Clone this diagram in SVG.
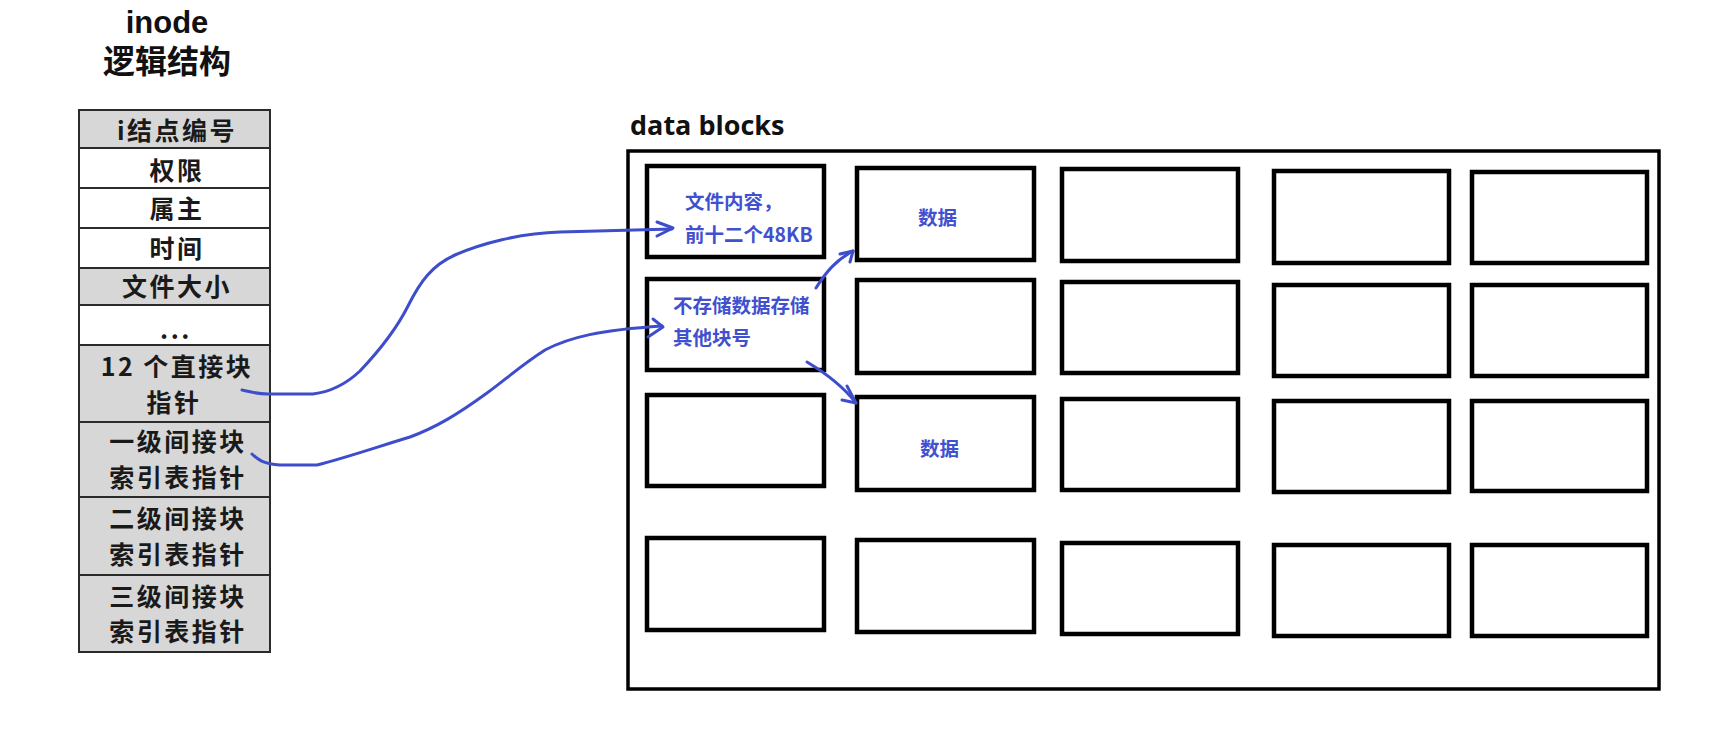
<svg xmlns="http://www.w3.org/2000/svg" width="1731" height="729" viewBox="0 0 1731 729">
<defs>
<style>
.title{font-family:"Liberation Sans","Noto Sans CJK SC",sans-serif;font-weight:bold;fill:#111;text-anchor:middle}
.cell{stroke:#2b2b2b;stroke-width:2}
.gray{fill:#d7d7d7}
.white{fill:#ffffff}
.ct{font-family:"Noto Sans CJK SC",sans-serif;font-weight:bold;font-size:25px;letter-spacing:2.5px;fill:#1a1a1a;text-anchor:middle}
.blk{fill:none;stroke:#000;stroke-width:4.5}
.bt{font-family:"Noto Sans CJK SC",sans-serif;font-weight:bold;font-size:19.5px;fill:#4150cf}
.conn{fill:none;stroke:#3d4dcc;stroke-width:3;stroke-linecap:round;stroke-linejoin:round}
</style>
</defs>
<rect width="1731" height="729" fill="#fff"/>
<g id="inode-title">
<text class="title" x="167" y="33" font-size="31">inode</text>
<text class="title" x="167" y="73" font-size="32" font-family="Noto Sans CJK SC">逻辑结构</text>
</g>
<g id="inode-table">
<g id="row-inum"><rect class="cell gray" x="79" y="110" width="191" height="38"/><text class="ct" x="177" y="140">i结点编号</text></g>
<g id="row-perm"><rect class="cell white" x="79" y="148" width="191" height="40"/><text class="ct" x="177" y="180">权限</text></g>
<g id="row-owner"><rect class="cell white" x="79" y="188" width="191" height="40"/><text class="ct" x="177" y="218">属主</text></g>
<g id="row-time"><rect class="cell white" x="79" y="228" width="191" height="40"/><text class="ct" x="177" y="258">时间</text></g>
<g id="row-size"><rect class="cell gray" x="79" y="268" width="191" height="37"/><text class="ct" x="177" y="296">文件大小</text></g>
<g id="row-more"><rect class="cell white" x="79" y="305" width="191" height="40"/><text class="ct" x="176" y="339" font-size="20" letter-spacing="0">...</text></g>
<g id="row-direct"><rect class="cell gray" x="79" y="345" width="191" height="77"/><text class="ct" x="177" y="376">12 个直接块</text><text class="ct" x="174" y="412">指针</text></g>
<g id="row-ind1"><rect class="cell gray" x="79" y="422" width="191" height="75"/><text class="ct" x="178" y="451">一级间接块</text><text class="ct" x="178" y="487">索引表指针</text></g>
<g id="row-ind2"><rect class="cell gray" x="79" y="497" width="191" height="78"/><text class="ct" x="178" y="528">二级间接块</text><text class="ct" x="178" y="564">索引表指针</text></g>
<g id="row-ind3"><rect class="cell gray" x="79" y="575" width="191" height="77"/><text class="ct" x="178" y="606">三级间接块</text><text class="ct" x="178" y="641">索引表指针</text></g>
</g>
<g id="data-blocks">
<text x="630" y="135" font-family="Open Sans, sans-serif" font-weight="bold" font-size="27" fill="#111">data blocks</text>
<rect x="628" y="151" width="1031" height="538" fill="none" stroke="#000" stroke-width="3.5"/>
</g>
<g id="blocks">
<g id="b00"><rect class="blk" x="647" y="166" width="177" height="91"/><text class="bt" x="685" y="209">文件内容，</text><text class="bt" x="685" y="242">前十二个48KB</text></g>
<g id="b01"><rect class="blk" x="857" y="168" width="177" height="92"/><text class="bt" x="918" y="225">数据</text></g>
<g id="b02"><rect class="blk" x="1062" y="169" width="176" height="92"/></g>
<g id="b03"><rect class="blk" x="1274" y="171" width="175" height="92"/></g>
<g id="b04"><rect class="blk" x="1472" y="172" width="175" height="91"/></g>
<g id="b10"><rect class="blk" x="647" y="279" width="177" height="91"/><text class="bt" x="673" y="313">不存储数据存储</text><text class="bt" x="673" y="345">其他块号</text></g>
<g id="b11"><rect class="blk" x="857" y="280" width="177" height="93"/></g>
<g id="b12"><rect class="blk" x="1062" y="282" width="176" height="91"/></g>
<g id="b13"><rect class="blk" x="1274" y="285" width="175" height="91"/></g>
<g id="b14"><rect class="blk" x="1472" y="285" width="175" height="91"/></g>
<g id="b20"><rect class="blk" x="647" y="395" width="177" height="91"/></g>
<g id="b21"><rect class="blk" x="857" y="397" width="177" height="93"/><text class="bt" x="920" y="456">数据</text></g>
<g id="b22"><rect class="blk" x="1062" y="399" width="176" height="91"/></g>
<g id="b23"><rect class="blk" x="1274" y="401" width="175" height="91"/></g>
<g id="b24"><rect class="blk" x="1472" y="401" width="175" height="90"/></g>
<g id="b30"><rect class="blk" x="647" y="538" width="177" height="92"/></g>
<g id="b31"><rect class="blk" x="857" y="540" width="177" height="92"/></g>
<g id="b32"><rect class="blk" x="1062" y="543" width="176" height="91"/></g>
<g id="b33"><rect class="blk" x="1274" y="545" width="175" height="91"/></g>
<g id="b34"><rect class="blk" x="1472" y="545" width="175" height="91"/></g>
</g>
<g id="connectors">
<path class="conn" d="M242,390 C252,392 256,394 268,394 L313,394 C330,392 345,385 360,371 C378,352 395,332 408,306 C420,282 432,265 455,255 C480,244 520,233 560,232 L672,229"/>
<polyline class="conn" points="657,222 673,228 657,236"/>
<path class="conn" d="M252,454 C258,460 264,464 280,465 L317,465 C345,458 380,446 410,437 C437,427 458,414 487,393 C505,380 520,366 545,350 C570,337 600,330 662,326"/>
<polyline class="conn" points="653,319 663,327 648,337"/>
<path class="conn" d="M816,288 C826,272 836,260 853,251"/>
<polyline class="conn" points="840,254 853,251 850,262"/>
<path class="conn" d="M807,362 C822,371 842,385 856,403"/>
<polyline class="conn" points="847,386 856,403 842,400"/>
</g>
</svg>
